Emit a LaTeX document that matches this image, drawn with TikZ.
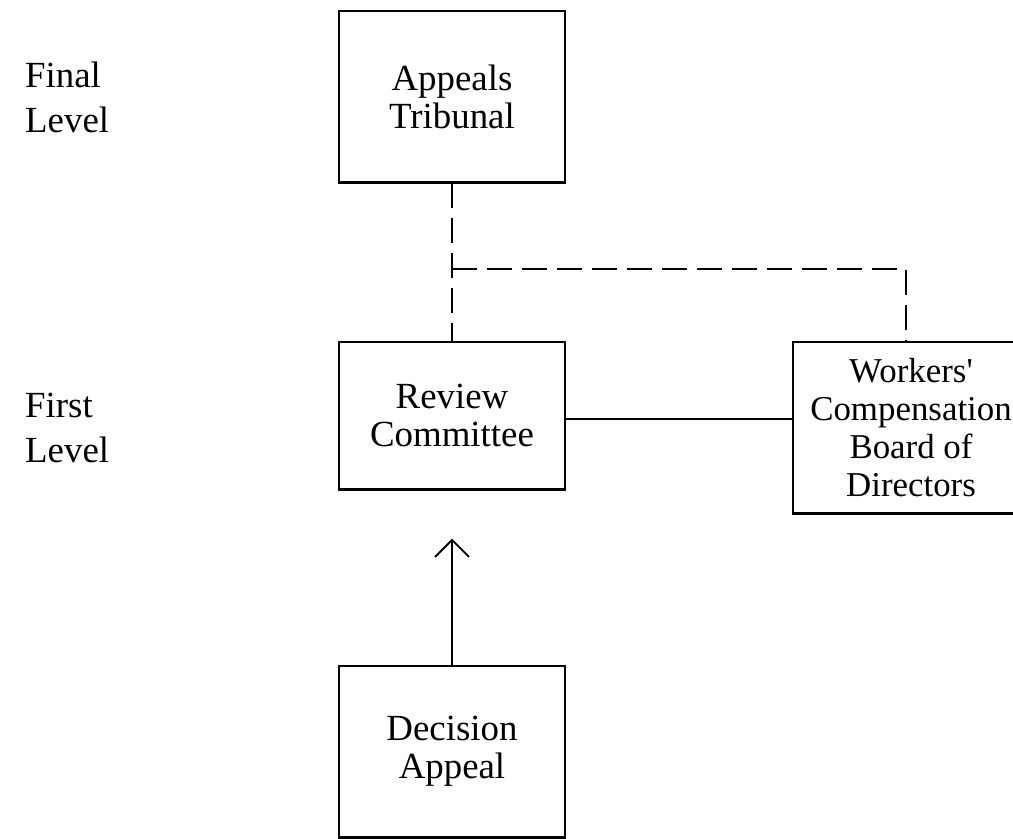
\documentclass[tikz,border=0pt]{standalone}
\usepackage{fontspec}
\setmainfont{Liberation Serif}[Ligatures=TeXOff]
\usepackage{tikz}
\usetikzlibrary{arrows.meta,positioning}

\tikzset{
  box/.style={draw, line width=1.4bp, minimum width=226bp, inner sep=0pt, align=center,
    font=\fontsize{37}{38}\selectfont},
  levellabel/.style={anchor=west, inner sep=0pt, align=left,
    font=\fontsize{37}{45}\selectfont},
  dashline/.style={line width=1.7bp, dash pattern=on 25bp off 10bp},
  solidline/.style={line width=1.8bp}
}

\begin{document}
\begin{tikzpicture}
\useasboundingbox (0,0) rectangle (1013bp,-839bp);
% level labels
\node (final) at (25bp,-97bp)[levellabel] {Final\\Level};
\node (first) at (25bp,-428bp)[levellabel] {First\\Level};

% boxes
\node (appeals) at (452bp,-96.5bp)[box, minimum height=171bp] {Appeals\\Tribunal};
\node (review) at (452bp,-415.5bp)[box, minimum height=147bp] {Review\\Committee};
\node (workers) at (911bp,-427.5bp)[box, minimum width=236bp, minimum height=171bp,
  font=\fontsize{35}{38}\selectfont] {Workers'\\Compensation\\Board of\\Directors};
\node (decision) at (452bp,-751.5bp)[box, minimum height=171bp] {Decision\\Appeal};
\foreach \n in {appeals,review,workers,decision}
  \draw [line width=2.6bp] (\n.south west) -- (\n.south east);

\coordinate (junction) at (452bp,-269bp);
\coordinate (tip) at ([yshift=-49bp]review.south);

% connectors
\draw [dashline] (appeals.south) -- (review.north);
\draw [dashline] (junction) -| ([xshift=-5bp]workers.north);
\draw [solidline] ([yshift=-3.5bp]review.east) -- ([yshift=-3.5bp]review.east -| workers.west);
\draw [solidline,-{Straight Barb[length=17bp,width=34bp]}] (decision.north) -- (tip);

\end{tikzpicture}
\end{document}
